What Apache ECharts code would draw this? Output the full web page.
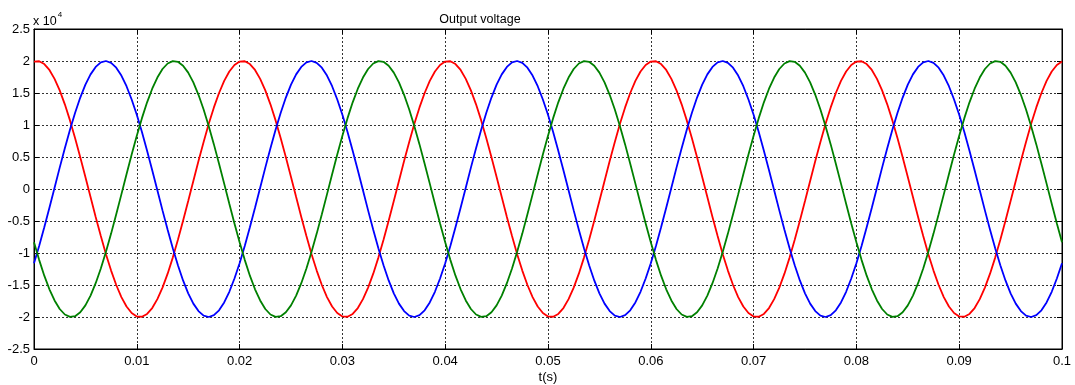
<!DOCTYPE html>
<html><head><meta charset="utf-8">
<script src="https://cdn.jsdelivr.net/npm/echarts@6/dist/echarts.min.js"></script>
<style>html,body{margin:0;padding:0;background:#fff}#c{width:1075px;height:385px}</style>
</head><body><div id="c"></div>
<script>
// sample times in milliseconds (0 .. 100 ms, every 0.5 ms)
const timesMs = [0,0.5,1,1.5,2,2.5,3,3.5,4,4.5,5,5.5,6,6.5,7,7.5,8,8.5,9,9.5,
10,10.5,11,11.5,12,12.5,13,13.5,14,14.5,15,15.5,16,16.5,17,17.5,18,18.5,19,19.5,
20,20.5,21,21.5,22,22.5,23,23.5,24,24.5,25,25.5,26,26.5,27,27.5,28,28.5,29,29.5,
30,30.5,31,31.5,32,32.5,33,33.5,34,34.5,35,35.5,36,36.5,37,37.5,38,38.5,39,39.5,
40,40.5,41,41.5,42,42.5,43,43.5,44,44.5,45,45.5,46,46.5,47,47.5,48,48.5,49,49.5,
50,50.5,51,51.5,52,52.5,53,53.5,54,54.5,55,55.5,56,56.5,57,57.5,58,58.5,59,59.5,
60,60.5,61,61.5,62,62.5,63,63.5,64,64.5,65,65.5,66,66.5,67,67.5,68,68.5,69,69.5,
70,70.5,71,71.5,72,72.5,73,73.5,74,74.5,75,75.5,76,76.5,77,77.5,78,78.5,79,79.5,
80,80.5,81,81.5,82,82.5,83,83.5,84,84.5,85,85.5,86,86.5,87,87.5,88,88.5,89,89.5,
90,90.5,91,91.5,92,92.5,93,93.5,94,94.5,95,95.5,96,96.5,97,97.5,98,98.5,99,99.5,
100];
// voltages in units of 1e4
const redV = [
1.991,1.996,1.952,1.860,1.721,1.541,1.323,1.072,0.794,0.497,0.188,-0.126,-0.436,-0.736,-1.018,-1.275,-1.500,-1.689,-1.836,-1.937,
-1.991,-1.996,-1.952,-1.860,-1.721,-1.541,-1.323,-1.072,-0.794,-0.497,-0.188,0.126,0.436,0.736,1.018,1.275,1.500,1.689,1.836,1.937,
1.991,1.996,1.952,1.860,1.721,1.541,1.323,1.072,0.794,0.497,0.188,-0.126,-0.436,-0.736,-1.018,-1.275,-1.500,-1.689,-1.836,-1.937,
-1.991,-1.996,-1.952,-1.860,-1.721,-1.541,-1.323,-1.072,-0.794,-0.497,-0.188,0.126,0.436,0.736,1.018,1.275,1.500,1.689,1.836,1.937,
1.991,1.996,1.952,1.860,1.721,1.541,1.323,1.072,0.794,0.497,0.188,-0.126,-0.436,-0.736,-1.018,-1.275,-1.500,-1.689,-1.836,-1.937,
-1.991,-1.996,-1.952,-1.860,-1.721,-1.541,-1.323,-1.072,-0.794,-0.497,-0.188,0.126,0.436,0.736,1.018,1.275,1.500,1.689,1.836,1.937,
1.991,1.996,1.952,1.860,1.721,1.541,1.323,1.072,0.794,0.497,0.188,-0.126,-0.436,-0.736,-1.018,-1.275,-1.500,-1.689,-1.836,-1.937,
-1.991,-1.996,-1.952,-1.860,-1.721,-1.541,-1.323,-1.072,-0.794,-0.497,-0.188,0.126,0.436,0.736,1.018,1.275,1.500,1.689,1.836,1.937,
1.991,1.996,1.952,1.860,1.721,1.541,1.323,1.072,0.794,0.497,0.188,-0.126,-0.436,-0.736,-1.018,-1.275,-1.500,-1.689,-1.836,-1.937,
-1.991,-1.996,-1.952,-1.860,-1.721,-1.541,-1.323,-1.072,-0.794,-0.497,-0.188,0.126,0.436,0.736,1.018,1.275,1.500,1.689,1.836,1.937,
1.991];
const blueV = [
-1.159,-0.889,-0.598,-0.292,0.021,0.334,0.638,0.927,1.192,1.429,1.630,1.791,1.908,1.979,2.000,1.972,1.896,1.772,1.606,1.399,
1.159,0.889,0.598,0.292,-0.021,-0.334,-0.638,-0.927,-1.192,-1.429,-1.630,-1.791,-1.908,-1.979,-2.000,-1.972,-1.896,-1.772,-1.606,-1.399,
-1.159,-0.889,-0.598,-0.292,0.021,0.334,0.638,0.927,1.192,1.429,1.630,1.791,1.908,1.979,2.000,1.972,1.896,1.772,1.606,1.399,
1.159,0.889,0.598,0.292,-0.021,-0.334,-0.638,-0.927,-1.192,-1.429,-1.630,-1.791,-1.908,-1.979,-2.000,-1.972,-1.896,-1.772,-1.606,-1.399,
-1.159,-0.889,-0.598,-0.292,0.021,0.334,0.638,0.927,1.192,1.429,1.630,1.791,1.908,1.979,2.000,1.972,1.896,1.772,1.606,1.399,
1.159,0.889,0.598,0.292,-0.021,-0.334,-0.638,-0.927,-1.192,-1.429,-1.630,-1.791,-1.908,-1.979,-2.000,-1.972,-1.896,-1.772,-1.606,-1.399,
-1.159,-0.889,-0.598,-0.292,0.021,0.334,0.638,0.927,1.192,1.429,1.630,1.791,1.908,1.979,2.000,1.972,1.896,1.772,1.606,1.399,
1.159,0.889,0.598,0.292,-0.021,-0.334,-0.638,-0.927,-1.192,-1.429,-1.630,-1.791,-1.908,-1.979,-2.000,-1.972,-1.896,-1.772,-1.606,-1.399,
-1.159,-0.889,-0.598,-0.292,0.021,0.334,0.638,0.927,1.192,1.429,1.630,1.791,1.908,1.979,2.000,1.972,1.896,1.772,1.606,1.399,
1.159,0.889,0.598,0.292,-0.021,-0.334,-0.638,-0.927,-1.192,-1.429,-1.630,-1.791,-1.908,-1.979,-2.000,-1.972,-1.896,-1.772,-1.606,-1.399,
-1.159];
const greenV = [
-0.833,-1.107,-1.354,-1.567,-1.742,-1.875,-1.961,-1.998,-1.987,-1.926,-1.818,-1.666,-1.472,-1.242,-0.982,-0.697,-0.395,-0.084,0.230,0.538,
0.833,1.107,1.354,1.567,1.742,1.875,1.961,1.998,1.987,1.926,1.818,1.666,1.472,1.242,0.982,0.697,0.395,0.084,-0.230,-0.538,
-0.833,-1.107,-1.354,-1.567,-1.742,-1.875,-1.961,-1.998,-1.987,-1.926,-1.818,-1.666,-1.472,-1.242,-0.982,-0.697,-0.395,-0.084,0.230,0.538,
0.833,1.107,1.354,1.567,1.742,1.875,1.961,1.998,1.987,1.926,1.818,1.666,1.472,1.242,0.982,0.697,0.395,0.084,-0.230,-0.538,
-0.833,-1.107,-1.354,-1.567,-1.742,-1.875,-1.961,-1.998,-1.987,-1.926,-1.818,-1.666,-1.472,-1.242,-0.982,-0.697,-0.395,-0.084,0.230,0.538,
0.833,1.107,1.354,1.567,1.742,1.875,1.961,1.998,1.987,1.926,1.818,1.666,1.472,1.242,0.982,0.697,0.395,0.084,-0.230,-0.538,
-0.833,-1.107,-1.354,-1.567,-1.742,-1.875,-1.961,-1.998,-1.987,-1.926,-1.818,-1.666,-1.472,-1.242,-0.982,-0.697,-0.395,-0.084,0.230,0.538,
0.833,1.107,1.354,1.567,1.742,1.875,1.961,1.998,1.987,1.926,1.818,1.666,1.472,1.242,0.982,0.697,0.395,0.084,-0.230,-0.538,
-0.833,-1.107,-1.354,-1.567,-1.742,-1.875,-1.961,-1.998,-1.987,-1.926,-1.818,-1.666,-1.472,-1.242,-0.982,-0.697,-0.395,-0.084,0.230,0.538,
0.833,1.107,1.354,1.567,1.742,1.875,1.961,1.998,1.987,1.926,1.818,1.666,1.472,1.242,0.982,0.697,0.395,0.084,-0.230,-0.538,
-0.833];
const seriesColors = ['#ff0000','#0000ff','#008000'];
const titleText = 'Output voltage';
const xLabel = 't(s)';

const toPairs = v => v.map((y, i) => [timesMs[i] / 1000, y]);
const font = 'Liberation Sans, Arial, sans-serif';
const chart = echarts.init(document.getElementById('c'));
const mkLine = (d, c) => ({type:'line', data: toPairs(d), smooth: false, showSymbol: false, symbol:'none',
  lineStyle:{color:c, width:1.8}, itemStyle:{color:c}, animation:false, z:3});
chart.setOption({
  backgroundColor:'#fff',
  animation:false,
  title:{text:titleText, left:475, top:8, textAlign:'center',
    textStyle:{fontFamily:font, fontSize:12.5, fontWeight:'normal', color:'#000'}},
  graphic:[{type:'text', left:33, top:11, style:{
    text:'{a|x 10}{b|4}', fontFamily:font,
    rich:{a:{fontSize:12.5, fill:'#000', fontFamily:font, verticalAlign:'bottom'},
          b:{fontSize:8, fill:'#000', fontFamily:font, verticalAlign:'top', padding:[0,0,9,1]}}}}],
  grid:{left:34, right:13, top:29, bottom:36, containLabel:false, outerBoundsMode:'none',
    show:true, borderColor:'#000', borderWidth:1, backgroundColor:'transparent'},
  xAxis:[{type:'value', min:0, max:0.1, interval:0.01,
    name:xLabel, nameLocation:'middle', nameGap:28, nameMoveOverlap:false,
    nameTextStyle:{fontFamily:font, fontSize:13, color:'#000', verticalAlign:'middle'},
    axisLine:{show:true, onZero:false, lineStyle:{color:'#000'}},
    axisTick:{show:true, inside:true, length:5, lineStyle:{color:'#000'}},
    axisLabel:{fontFamily:font, fontSize:13, color:'#000', margin:6,
      formatter:v => String(+v.toFixed(2))},
    splitLine:{show:true, lineStyle:{color:'#333', type:[2,2], width:1}}},
   {type:'value', position:'top', min:0, max:0.1, interval:0.01,
    axisLine:{show:true, onZero:false, lineStyle:{color:'#000'}},
    axisTick:{show:true, inside:true, length:5, lineStyle:{color:'#000'}},
    axisLabel:{show:false}, splitLine:{show:false}}],
  yAxis:[{type:'value', min:-2.5, max:2.5, interval:0.5,
    axisLine:{show:true, onZero:false, lineStyle:{color:'#000'}},
    axisTick:{show:true, inside:true, length:5, lineStyle:{color:'#000'}},
    axisLabel:{fontFamily:font, fontSize:13, color:'#000', margin:4},
    splitLine:{show:true, lineStyle:{color:'#333', type:[2,2], width:1}}},
   {type:'value', position:'right', min:-2.5, max:2.5, interval:0.5,
    axisLine:{show:true, onZero:false, lineStyle:{color:'#000'}},
    axisTick:{show:true, inside:true, length:5, lineStyle:{color:'#000'}},
    axisLabel:{show:false}, splitLine:{show:false}}],
  series:[mkLine(redV, seriesColors[0]), mkLine(blueV, seriesColors[1]), mkLine(greenV, seriesColors[2])]
});
</script></body></html>
